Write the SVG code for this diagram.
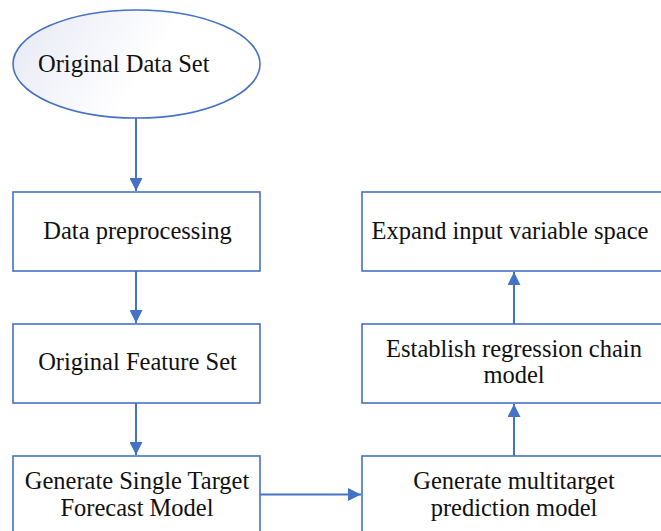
<svg xmlns="http://www.w3.org/2000/svg" width="661" height="531" viewBox="0 0 661 531">
<defs>
<linearGradient id="eg" x1="0" y1="0" x2="1" y2="0.3">
<stop offset="0" stop-color="#e6e8f4"/>
<stop offset="0.65" stop-color="#ffffff"/>
<stop offset="1" stop-color="#ffffff"/>
</linearGradient>
<marker id="ah" viewBox="0 0 13 13" refX="13" refY="6.5" markerWidth="13" markerHeight="13" markerUnits="userSpaceOnUse" orient="auto">
<path d="M0,0 L13,6.5 L0,13 Z" fill="#4472c4"/>
</marker>
<style>
.n{fill:#ffffff;stroke:#4472c4;stroke-width:1.6}
.t{font-family:"Liberation Serif","Times New Roman",serif;font-size:24.5px;fill:#111}
.c{stroke:#4472c4;stroke-width:2;fill:none;marker-end:url(#ah)}
</style>
</defs>
<rect width="661" height="531" fill="#ffffff"/>
<g id="connectors">
<line class="c" x1="136" y1="118" x2="136" y2="191"/>
<line class="c" x1="136" y1="271" x2="136" y2="323"/>
<line class="c" x1="136" y1="403" x2="136" y2="455"/>
<line class="c" x1="260" y1="494.5" x2="361" y2="494.5"/>
<line class="c" x1="514" y1="456" x2="514" y2="404"/>
<line class="c" x1="514" y1="324" x2="514" y2="272"/>
</g>
<g id="original-data-set">
<ellipse cx="136.5" cy="64" rx="123.5" ry="54" fill="url(#eg)" stroke="#4472c4" stroke-width="1.6"/>
<text class="t" x="38" y="72">Original Data Set</text>
</g>
<g id="data-preprocessing">
<rect class="n" x="13" y="192" width="247" height="79"/>
<text class="t" x="137.5" y="239" text-anchor="middle">Data preprocessing</text>
</g>
<g id="original-feature-set">
<rect class="n" x="13" y="324" width="247" height="79"/>
<text class="t" x="137.5" y="370" text-anchor="middle">Original Feature Set</text>
</g>
<g id="single-target">
<rect class="n" x="13" y="456" width="247" height="90"/>
<text class="t" x="137" y="489" text-anchor="middle">Generate Single Target</text>
<text class="t" x="137" y="516" text-anchor="middle">Forecast Model</text>
</g>
<g id="expand-input">
<rect class="n" x="362" y="192" width="320" height="79"/>
<text class="t" x="510" y="239" text-anchor="middle">Expand input variable space</text>
</g>
<g id="regression-chain">
<rect class="n" x="362" y="324" width="320" height="79"/>
<text class="t" x="514" y="357" text-anchor="middle">Establish regression chain</text>
<text class="t" x="514" y="383" text-anchor="middle">model</text>
</g>
<g id="multitarget">
<rect class="n" x="362" y="456" width="320" height="90"/>
<text class="t" x="514" y="489" text-anchor="middle">Generate multitarget</text>
<text class="t" x="514" y="516" text-anchor="middle">prediction model</text>
</g>
</svg>
